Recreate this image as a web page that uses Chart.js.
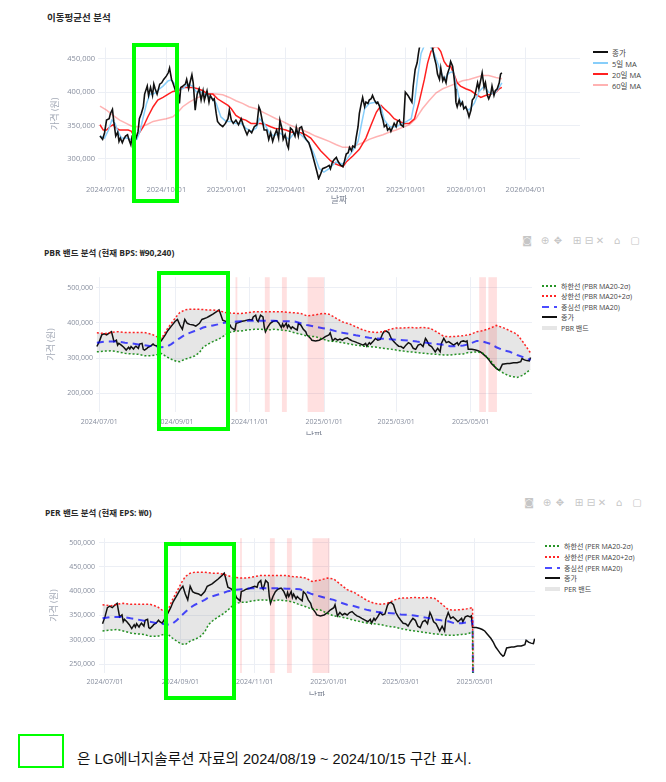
<!DOCTYPE html>
<html lang="ko">
<head>
<meta charset="utf-8">
<title>LG에너지솔루션 이동평균선 / PBR / PER 밴드 분석</title>
<script src="https://cdn.jsdelivr.net/npm/chart.js@4.4.1/dist/chart.umd.min.js"></script>
<style>
  html, body { margin: 0; padding: 0; background: #fff; }
  body { width: 666px; height: 782px; position: relative; overflow: hidden;
         font-family: "Open Sans", "Noto Sans CJK KR", sans-serif; }
  .title { position: absolute; font-size: 9.5px; font-weight: bold; color: #2a2a2a; white-space: nowrap; line-height: 12px; }
  .title.small { font-size: 8.5px; }
  .clip { position: absolute; left: 0; overflow: hidden; }
  .clip > div { position: relative; }
  .legend { position: absolute; color: #444; }
  .legend .row { position: absolute; left: 0; height: 10px; display: flex; align-items: center; white-space: nowrap; }
  .legend svg { margin-right: 4px; flex: none; }
  .modebar span { position: absolute; width: 12px; margin-left: -6px; text-align: center;
                  font: 10px "DejaVu Sans", sans-serif; color: #c6c6c6; line-height: 10px; }
  .mark { position: absolute; border: 4px solid #00ff00; box-sizing: border-box; }
  .note { position: absolute; left: 77px; top: 749px; font: 14.6px "Liberation Sans", "Noto Sans CJK KR", sans-serif;
          color: #111; white-space: nowrap; line-height: 20px; }
</style>
</head>
<body>

<div class="title" style="left:47px;top:12px">이동평균선 분석</div>
<div class="clip" style="top:40px;width:590px;height:175px"><div style="width:590px;height:175px"><canvas id="maChart"></canvas></div></div>
<div class="legend" id="maLegend" style="left:593px;top:52px;font-size:7.5px"></div>

<div class="title small" style="left:44px;top:247px">PBR 밴드 분석 (현재 BPS: ₩90,240)</div>
<div class="modebar" style="position:absolute;left:0;top:236px">
  <span style="left:527px">◙</span><span style="left:545px">⊕</span><span style="left:558px">✥</span><span style="left:577px">⊞</span>
  <span style="left:589px">⊟</span><span style="left:600px">✕</span><span style="left:617px">⌂</span><span style="left:635px">▢</span>
</div>
<div class="clip" style="top:270px;width:540px;height:165px"><div style="width:540px;height:175px"><canvas id="pbrChart"></canvas></div></div>
<div class="legend" id="pbrLegend" style="left:542px;top:286px;font-size:7px"></div>

<div class="title small" style="left:45px;top:507px">PER 밴드 분석 (현재 EPS: ₩0)</div>
<div class="modebar" style="position:absolute;left:0;top:498px">
  <span style="left:529px">◙</span><span style="left:547px">⊕</span><span style="left:560px">✥</span><span style="left:579px">⊞</span>
  <span style="left:591px">⊟</span><span style="left:602px">✕</span><span style="left:619px">⌂</span><span style="left:637px">▢</span>
</div>
<div class="clip" style="top:530px;width:540px;height:166px"><div style="width:540px;height:175px"><canvas id="perChart"></canvas></div></div>
<div class="legend" id="perLegend" style="left:545px;top:546px;font-size:7px"></div>

<!-- 2024/08/19 ~ 2024/10/15 구간 표시 -->
<div class="mark" style="left:132px;top:43px;width:47px;height:160px"></div>
<div class="mark" style="left:157px;top:271px;width:73px;height:160px"></div>
<div class="mark" style="left:164px;top:542px;width:72px;height:158px"></div>

<div class="mark" style="left:18px;top:734px;width:46px;height:34px;border-width:2px"></div>
<div class="note">은 LG에너지솔루션 자료의 2024/08/19 ~ 2024/10/15 구간 표시.</div>

<script>
// x 값은 2024/07/01 부터의 경과 일수, 가격은 천원 단위

// ---- 이동평균선 ----
var maTicks = ['2024/07/01', '2024/10/01', '2025/01/01', '2025/04/01', '2025/07/01', '2025/10/01', '2026/01/01', '2026/04/01'];
var maYTicks = [300000, 350000, 400000, 450000];

var maCloseDay = [-9,-5,-2,1,5,7,10,12,15,18, 20,22,25,27,30,33,35,38,40,44, 46,49,51,54,57,59,63,65,68,71,
  73,75,78,82,85,88,92,95,97,100, 102,106,110,112,114,117,121,123,126,128, 131,133,136,139,142,145,148,150,154,157,
  159,163,165,168,170,174,178,182,186,188, 191,194,198,202,206,209,212,215,218,222, 226,230,233,235,238,241,245,248,251,254,
  257,260,263,265,268,270,273,276,278,281, 284,288,290,293,295,298,302,305,309,313, 317,321,324,327,330,335,340,342,345,348,
  351,353,356,358,361,363,366,369,371,374, 376,379,381,384,386,389,391,394,396,399, 401,404,406,409,412,414,417,419,422,424,
  427,429,432,434,437,439,442,444,447,449, 453,456,460,463,466,468,471,474,476,478, 482,487,492,497,500,503,505,508,510,513,
  515,518,520,523,525,528,530,532,533,535, 538,540,543,545,548,551,553,556,558,561, 563,566,568,571,573,576,578,581,583,586,
  588,591,593,596,599,601,603];
var maClose = [334,329,339,358,360,368,374,356,334,340, 326,331,324,329,334,336,329,321,334,334, 331,341,360,368,378,397,409,395,407,395,
  412,405,397,412,414,419,424,429,436,419, 414,402,400,383,407,409,412,419,405,414, 426,414,373,397,405,388,402,388,402,385,
  395,388,390,368,356,351,348,353,360,373, 358,353,358,351,360,351,343,336,343,339, 348,351,378,373,358,343,343,329,339,326,
  336,343,331,358,346,329,336,321,316,346, 343,334,347,334,346,348,334,329,324,312, 297,282,270,277,285,287,290,285,295,299,
  302,297,292,290,288,295,307,309,317,312, 319,317,331,348,368,383,392,378,385,383, 388,390,395,388,383,385,378,368,358,348,
  351,343,346,341,348,353,348,356,358,351, 348,400,395,390,385,409,434,444,458,470, 482,488,475,468,453,441,427,419,436,417,
  422,414,427,436,446,439,424,405,385,378, 388,380,385,375,378,370,363,373,388,392, 400,414,405,419,429,407,414,395,390,397,
  409,395,402,405,414,427,429];

var ma5Day = [-9,-2,4,9,14,19,24,31,39,47, 52,57,62,67,72,77,82,87,95,100, 105,110,117,125,132,138,145,153,160,168,
  175,183,191,198,206,213,221,229,234,241, 249,256,264,272,279,287,294,302,309,317, 325,332,340,350,361,369,376,384,389,394,
  401,412,419,424,432,442,452,458,465,470, 475,480,485,492,500,508,515,523,529,533, 538,545,553,561,568,576,583,591,599,603];
var ma5 = [334,331,343,358,353,339,331,331,329,329, 341,363,383,397,397,400,405,409,417,418, 412,405,405,412,409,400,400,395,392,383,
  363,356,356,353,353,346,341,346,360,353, 339,334,339,334,329,339,339,331,324,307, 285,280,285,295,292,302,312,326,351,375,
  383,385,378,358,348,348,353,356,360,385, 424,458,470,472,458,436,419,429,431,414, 390,378,373,383,400,409,400,397,407,414];

var ma20Day = [-9,-4,1,6,11,16,21,26,34,39, 44,49,57,64,72,79,87,95,102,110, 117,125,132,140,148,155,163,170,178,186,
  191,198,206,213,221,229,236,244,251,259, 266,274,282,289,297,304,312,320,327,335, 342,350,355,361,366,376,386,396,404,412,
  419,424,432,439,447,454,462,470,477,485, 490,495,500,505,510,515,520,525,530,535, 540,548,556,563,571,578,586,594,599,603];
var ma20 = [351,343,343,348,351,346,343,343,343,341, 331,336,348,363,378,388,392,397,401,402, 407,407,407,405,402,397,397,390,385,380,
  375,365,360,358,353,353,353,351,348,345, 345,343,340,339,339,336,331,321,312,304, 297,292,290,288,295,304,314,331,351,370,
  380,375,368,360,356,353,353,360,385,419, 444,461,468,468,461,446,439,439,427,414, 409,405,402,397,392,395,397,400,405,407];

var ma60Day = [-9,1,11,21,31,41,52,62,72,82, 92,102,110,117,127,138,148,158,168,178, 188,198,208,218,229,239,249,259,269,279,
  289,299,309,319,330,340,351,361,371,381, 391,401,412,422,432,442,452,462,472,482, 492,503,513,523,533,543,553,563,573,583, 594,603];
var ma60 = [379,373,365,358,353,348,348,351,356,358, 360,363,370,378,385,391,395,397,397,396, 392,387,383,378,375,370,365,360,356,351,
  347,343,339,334,330,326,321,317,317,320, 324,329,333,336,340,343,347,351,360,375, 387,399,405,409,413,417,419,422,425,425, 422,420];

// ---- PBR / PER 밴드 ----
var bandTicks = ['2024/07/01', '2024/09/01', '2024/11/01', '2025/01/01', '2025/03/01', '2025/05/01'];
var pbrYTicks = [200000, 300000, 400000, 500000];
var perYTicks = [250000, 300000, 350000, 400000, 450000, 500000];

var bandCloseDay = [-2,0,2,4,6,8,10,11,12,14, 15,16,18,20,22,24,25,26,28,29, 30,32,33,35,36,37,39,40,42,44,
  45,47,51,54,56,59,62,64,66,68, 70,72,74,77,79,82,84,88,90,93, 96,98,99,101,104,107,108,111,112,114,
  116,119,121,123,125,126,128,129,130,132, 134,135,136,138,140,142,144,145,147,149, 150,151,153,154,155,157,158,160,162,163,
  165,167,169,170,173,174,177,180,183,185, 188,189,191,193,195,197,199,201,203,205, 207,209,211,214,216,218,219,221,222,224,
  226,228,230,232,233,235,237,239,241,243, 245,247,249,251,253,255,257,259,261,263, 265,267,268,270,272,274,275,277,279,280,
  282,284,286,288,290,293,294,296,298,300, 301,302,305,308,310,312,314,317,319,321, 323,325,327,328,330,334,336,339,342,345,
  346,348,350,352,353];
var bandClose = [333,347,366,369,366,371,375,361,347,351, 337,342,337,331,323,331,326,333,326,331, 334,328,340,342,325,323,328,331,334,340,
  337,334,351,366,378,391,404,410,394,382, 410,399,396,394,391,399,410,415,419,425, 432,437,428,408,404,394,387,380,399,401,
  404,406,408,410,408,417,422,408,404,422, 417,389,375,389,399,404,406,406,399,387, 397,389,399,387,394,384,389,384,380,399,
  394,382,375,366,356,351,349,351,356,361, 366,372,349,356,351,354,351,356,358,353, 349,347,344,340,337,342,334,344,340,347,
  356,351,353,370,375,377,372,356,347,340, 334,333,328,337,344,340,328,325,337,340, 333,356,351,337,333,323,318,328,318,342,
  356,344,347,342,337,344,337,347,349,347, 349,325,325,323,321,318,312,303,295,285, 278,271,266,268,283,285,285,287,287,290,
  299,295,293,292,302];

var bandDay = [-2,5,10,15,21,26,32,37,43,47, 51,55,59,63,66,70,74,78,82,85, 89,93,97,101,104,108,112,116,121,127,
  132,138,143,149,154,160,165,170,177,183, 188,194,199,205,210,216,221,227,232,238, 243,249,254,260,265,271,276,282,287,293,
  298,302,304,309,314,320,325,331,336,342, 347,353];
var bandLower = [318,320,321,318,314,312,311,307,307,310, 313,304,297,291,290,297,301,306,316,331, 340,347,353,361,368,375,377,377,380,382,
  382,380,382,380,378,372,368,363,361,354, 349,347,344,340,337,334,333,331,328,326, 323,320,318,316,314,312,311,309,309,311,
  312,316,316,318,314,295,271,257,249,245, 252,268];
var bandUpper = [372,370,373,375,373,373,373,373,368,361, 356,380,399,418,430,437,439,439,439,438, 437,437,435,432,429,428,427,427,429,432,
  432,432,432,432,430,429,427,420,423,427, 425,413,403,397,389,380,375,373,375,382, 386,386,387,386,387,385,375,362,361,362,
  364,366,368,375,378,385,393,386,378,368, 345,315];
var bandMid = [344,347,347,347,344,342,339,337,334,333, 331,332,340,350,357,366,372,377,382,387, 390,393,396,400,401,403,404,405,406,406,
  406,406,406,405,405,404,399,394,389,385, 382,376,372,369,365,361,358,356,355,354, 352,351,350,347,345,342,340,338,334,334,
  336,339,342,349,347,341,331,322,318,309, 303,295];

// PER 밴드는 2025/05/01 직전에 끊기며 0 으로 떨어짐
var perBandLastDay = 302;
var perDropDay = 303;
var perDropValue = 0;

// 분홍 음영 구간 (시작일, 종료일)
var pbrMarkStart = [111.5, 135.5, 149.5, 170.5, 311, 318.5];
var pbrMarkEnd   = [113, 139.5, 153.5, 184, 316.5, 325.5];
var perMarkStart = [111, 135.5, 149.5, 170.5];
var perMarkEnd   = [112.5, 139.5, 153.5, 184.5];

var BASE = Date.UTC(2024, 6, 1);
var gridColor = '#eceff5';
var tickColor = '#878e9e';

Chart.defaults.font.family = '"Open Sans", "Noto Sans CJK KR", sans-serif';
Chart.defaults.animation = false;

function dayOf(s) {
    var p = s.split('/').map(Number);
    return (Date.UTC(p[0], p[1] - 1, p[2]) - BASE) / 86400000;
}

function pts(days, vals) {
    return days.map(function(d, i) { return { x: d, y: vals[i] * 1000 }; });
}

function perPts(vals) {
    var n = bandDay.filter(function(d) { return d <= perBandLastDay; }).length;
    return pts(bandDay.slice(0, n), vals.slice(0, n)).concat([{ x: perDropDay, y: perDropValue }]);
}

var marksPlugin = {
    id: 'marks',
    beforeDatasetsDraw: function(chart, args, opts) {
        if (!opts.start) return;
        var ctx = chart.ctx, a = chart.chartArea, x = chart.scales.x;
        ctx.save();
        ctx.fillStyle = 'rgba(255, 0, 0, 0.12)';
        opts.start.forEach(function(s, i) {
            var x1 = x.getPixelForValue(s), x2 = x.getPixelForValue(opts.end[i]);
            ctx.fillRect(x1, a.top, x2 - x1, a.bottom - a.top);
        });
        ctx.restore();
    }
};

function xScale(min, max, ticks, c) {
    return {
        type: 'linear', min: min, max: max,
        afterBuildTicks: function(s) { s.ticks = ticks.map(function(t) { return { value: dayOf(t) }; }); },
        afterFit: function(s) { s.height = 30; },
        ticks: { autoSkip: false, maxRotation: 0, padding: c.tickPad, color: tickColor, font: { size: c.tickSize },
                 callback: function(v, i) { return ticks[i]; } },
        grid: { color: gridColor, drawTicks: false },
        border: { display: false },
        title: { display: true, text: '날짜', color: '#7d8494', font: { size: 9 }, padding: { top: 0, bottom: c.titlePad } }
    };
}

function yScale(min, max, ticks, c) {
    return {
        min: min, max: max,
        afterBuildTicks: function(s) { s.ticks = ticks.map(function(t) { return { value: t }; }); },
        afterFit: function(s) { s.width = c.width; },
        ticks: { padding: c.tickPad, color: tickColor, font: { size: c.tickSize },
                 callback: function(v) { return v.toLocaleString('en-US'); } },
        grid: { color: gridColor, drawTicks: false },
        border: { display: false },
        title: { display: true, text: '가격 (원)', color: '#a3a9b6', font: { size: 9 }, padding: { top: 2, bottom: 0 } }
    };
}

function lineDefaults(ds) {
    ds.pointRadius = 0;
    ds.pointHoverRadius = 0;
    ds.tension = 0;
    if (!ds.fill) ds.fill = false;
    return ds;
}

function bandDatasets(name, lower, upper, mid, close) {
    return [
        { label: '하한선 (' + name + ' MA20-2σ)', data: lower, borderColor: 'rgba(0,128,0,0.85)', borderWidth: 1.5, borderDash: [2, 2] },
        { label: '상한선 (' + name + ' MA20+2σ)', data: upper, borderColor: 'rgba(255,0,0,0.85)', borderWidth: 1.5, borderDash: [2, 2] },
        { label: '중심선 (' + name + ' MA20)', data: mid, borderColor: 'rgba(0,0,255,0.7)', borderWidth: 2, borderDash: [7, 5] },
        { label: '종가', data: close, borderColor: '#111', borderWidth: 1.5 },
        { label: name + ' 밴드', data: upper, borderColor: 'rgba(0,0,0,0)', borderWidth: 1,
          backgroundColor: 'rgba(128,128,128,0.2)', fill: { target: 0 } }
    ].map(lineDefaults);
}

function drawLegend(chart, id, step) {
    var el = document.getElementById(id);
    chart.data.datasets.forEach(function(ds, i) {
        var row = document.createElement('div');
        row.className = 'row';
        row.style.top = (i * step - 5) + 'px';
        var band = !!ds.fill;
        var stroke = band ? ds.backgroundColor : ds.borderColor;
        var dash = ds.borderDash ? ds.borderDash.join(',') : 'none';
        row.innerHTML = '<svg width="15" height="6"><line x1="0" y1="3" x2="15" y2="3" stroke="' + stroke +
            '" stroke-width="' + (band ? 4 : 2) + '" stroke-dasharray="' + dash + '"/></svg><span>' + ds.label + '</span>';
        el.appendChild(row);
    });
}

var maChart = new Chart(document.getElementById('maChart'), {
    type: 'line',
    data: {
        datasets: [
            { label: '종가', data: pts(maCloseDay, maClose), borderColor: '#111', borderWidth: 1.6 },
            { label: '5일 MA', data: pts(ma5Day, ma5), borderColor: '#87cefa', borderWidth: 1.5 },
            { label: '20일 MA', data: pts(ma20Day, ma20), borderColor: '#ff2020', borderWidth: 1.5 },
            { label: '60일 MA', data: pts(ma60Day, ma60), borderColor: 'rgba(255,0,0,0.3)', borderWidth: 1.5 }
        ].map(lineDefaults)
    },
    options: {
        responsive: true, maintainAspectRatio: false, events: [],
        layout: { padding: { left: 48, right: 10, top: 4, bottom: 5 } },
        plugins: { legend: { display: false }, tooltip: { enabled: false } },
        scales: {
            x: xScale(-12, 722, maTicks, { tickPad: 5, tickSize: 7.5, titlePad: 4 }),
            y: yScale(268000, 467000, maYTicks, { width: 50, tickPad: 3, tickSize: 7.5 })
        }
    }
});
drawLegend(maChart, 'maLegend', 11);

var pbrChart = new Chart(document.getElementById('pbrChart'), {
    type: 'line',
    data: {
        datasets: bandDatasets('PBR', pts(bandDay, bandLower), pts(bandDay, bandUpper), pts(bandDay, bandMid),
                               pts(bandCloseDay, bandClose))
    },
    options: {
        responsive: true, maintainAspectRatio: false, events: [],
        layout: { padding: { left: 44, right: 8, top: 7, bottom: 3 } },
        plugins: { legend: { display: false }, tooltip: { enabled: false },
                   filler: { drawTime: 'beforeDatasetsDraw' },
                   marks: { start: pbrMarkStart, end: pbrMarkEnd } },
        scales: {
            x: xScale(-2.7, 354.2, bandTicks, { tickPad: 6, tickSize: 7, titlePad: 0 }),
            y: yScale(147000, 530000, pbrYTicks, { width: 52, tickPad: 3, tickSize: 7 })
        }
    },
    plugins: [marksPlugin]
});
drawLegend(pbrChart, 'pbrLegend', 10.4);

var perChart = new Chart(document.getElementById('perChart'), {
    type: 'line',
    data: {
        datasets: bandDatasets('PER', perPts(bandLower), perPts(bandUpper), perPts(bandMid),
                               pts(bandCloseDay, bandClose))
    },
    options: {
        responsive: true, maintainAspectRatio: false, events: [],
        layout: { padding: { left: 47, right: 5, top: 8, bottom: 2 } },
        plugins: { legend: { display: false }, tooltip: { enabled: false },
                   filler: { drawTime: 'beforeDatasetsDraw' },
                   marks: { start: perMarkStart, end: perMarkEnd } },
        scales: {
            x: xScale(-4.9, 353.3, bandTicks, { tickPad: 5, tickSize: 7, titlePad: 1 }),
            y: yScale(231500, 509000, perYTicks, { width: 52, tickPad: 4, tickSize: 7 })
        }
    },
    plugins: [marksPlugin]
});
drawLegend(perChart, 'perLegend', 10.75);
</script>
</body>
</html>
